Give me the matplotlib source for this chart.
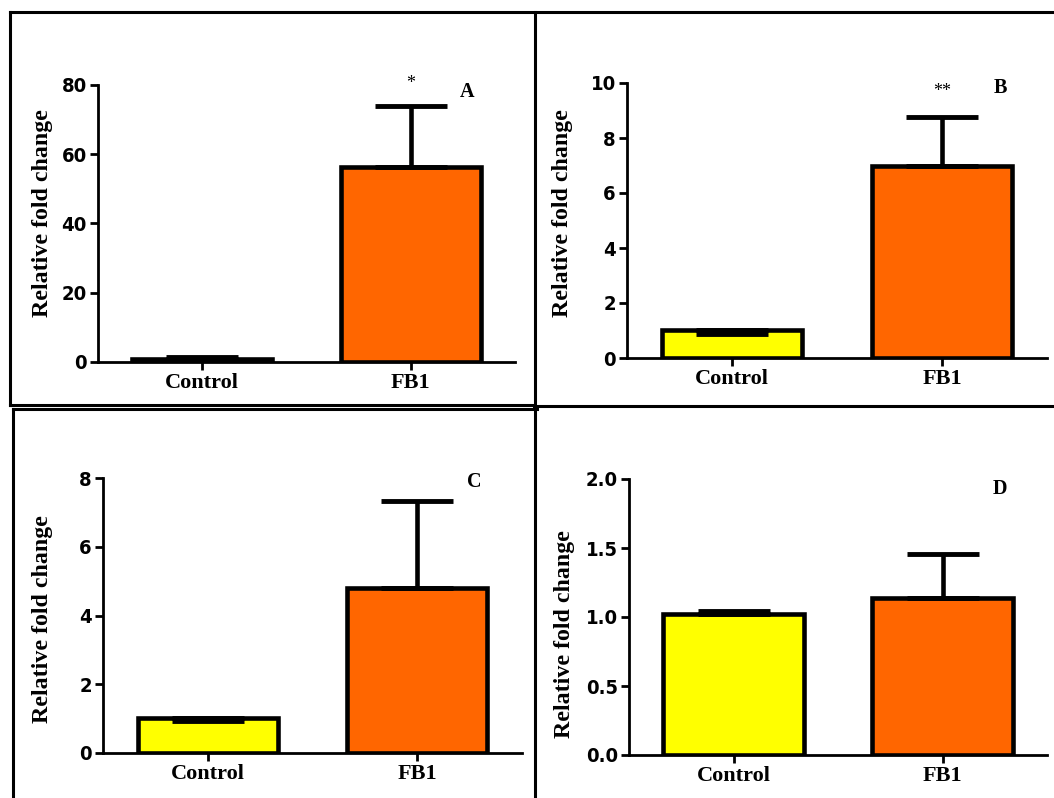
import matplotlib
matplotlib.use("Agg")
import matplotlib.pyplot as plt
from matplotlib.lines import Line2D

W, H = 1054, 798

groups = ["Control", "FB1"]
colors = ["#FFFF00", "#FF6600"]

# panel data: mean, lower error, upper error
means_a = [1.0, 56.2]
lo_a = [0.0, 0.0]
hi_a = [0.4, 17.6]

means_b = [1.03, 7.0]
lo_b = [0.15, 0.0]
hi_b = [0.0, 1.76]

means_c = [1.02, 4.8]
lo_c = [0.1, 0.0]
hi_c = [0.0, 2.53]

means_d = [1.02, 1.14]
lo_d = [0.0, 0.0]
hi_d = [0.02, 0.315]

ylims = [80, 10, 8, 2.0]
yticks = [[0, 20, 40, 60, 80], [0, 2, 4, 6, 8, 10], [0, 2, 4, 6, 8],
          [0.0, 0.5, 1.0, 1.5, 2.0]]
ytick_fmt = ["{:.0f}", "{:.0f}", "{:.0f}", "{:.1f}"]
letters = ["A", "B", "C", "D"]
stars = ["*", "**", "", ""]

# axes boxes in pixels: left, top, right, bottom
boxes = [(98, 85, 515, 362), (627, 83, 1047, 358),
         (103, 478, 522, 753), (629, 479, 1047, 755)]
label_xy = [(-0.108, 0.538), (-0.129, 0.527), (-0.119, 0.487), (-0.129, 0.438)]
letter_pos = [(467, 92), (1000, 88), (474, 482), (1000, 489)]
star_pos = [(411, 83), (942, 92), None, None]

num_font = ["Liberation Sans Narrow", "DejaVu Sans"]
serif = "Liberation Serif"

fig = plt.figure(figsize=(W / 100, H / 100), dpi=100)


def px_box(l, t, r, b):
    return [l / W, 1 - b / H, (r - l) / W, (b - t) / H]


data = [(means_a, lo_a, hi_a), (means_b, lo_b, hi_b),
        (means_c, lo_c, hi_c), (means_d, lo_d, hi_d)]

for i, (means, lo, hi) in enumerate(data):
    ax = fig.add_axes(px_box(*boxes[i]))
    x = [0, 1]
    ax.bar(x, means, width=0.67, color=colors, edgecolor="black",
           linewidth=3.3, zorder=2)
    ax.errorbar(x, means, yerr=[lo, hi], fmt="none", ecolor="black",
                elinewidth=3.3, capsize=26, capthick=3.5, zorder=3)
    ax.set_xlim(-0.5, 1.5)
    ax.set_ylim(0, ylims[i])
    ax.set_yticks(yticks[i])
    ax.set_yticklabels([ytick_fmt[i].format(v) for v in yticks[i]],
                       family=num_font, fontweight="bold", fontsize=14.5,
                       fontstretch="condensed")
    ax.set_xticks(x)
    ax.set_xticklabels(groups, family=serif, fontweight="bold", fontsize=16)
    for s in ["top", "right"]:
        ax.spines[s].set_visible(False)
    for s in ["left", "bottom"]:
        ax.spines[s].set_linewidth(2)
    ax.tick_params(axis="both", width=2, length=6, pad=2)
    ax.set_ylabel("Relative fold change", family=serif, fontweight="bold",
                  fontsize=17.2)
    ax.yaxis.set_label_coords(*label_xy[i])

    lx, ly = letter_pos[i]
    fig.text(lx / W, 1 - ly / H, letters[i], family=serif, fontweight="bold",
             fontsize=14.5, ha="center", va="center")
    if star_pos[i]:
        sx, sy = star_pos[i]
        fig.text(sx / W, 1 - sy / H, stars[i], family=serif, fontsize=13,
                 ha="center", va="center")

# panel frames
frame = [
    ((10, 1054), (12, 12)),
    ((10, 534), (405, 405)),
    ((534, 1054), (406, 406)),
    ((13, 537), (409, 409)),
    ((10, 10), (12, 405)),
    ((13, 13), (409, 798)),
    ((535, 535), (12, 798)),
]
for xs, ys in frame:
    fig.add_artist(Line2D([v / W for v in xs], [1 - v / H for v in ys],
                          color="black", linewidth=2.2))

fig.savefig("out.png", dpi=100)
